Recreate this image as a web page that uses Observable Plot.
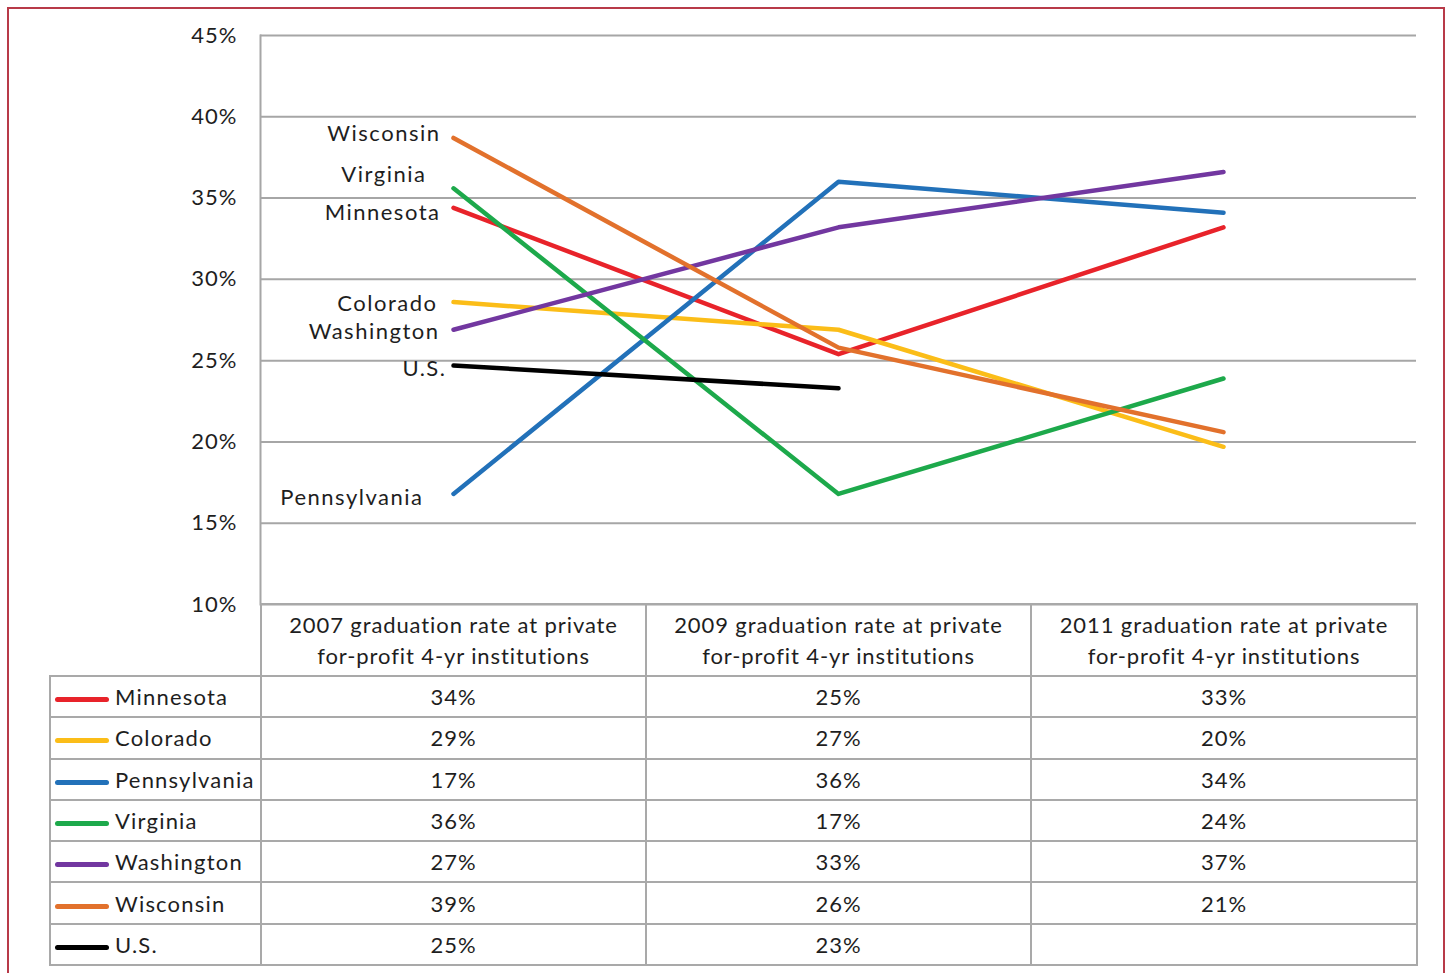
<!DOCTYPE html>
<html><head><meta charset="utf-8">
<script src="https://cdn.jsdelivr.net/npm/d3@7"></script>
<script src="https://cdn.jsdelivr.net/npm/@observablehq/plot@0.6"></script>
<style>
body{margin:0;background:#fff;}
#wrap{position:relative;width:1449px;height:973px;overflow:hidden;font-family:Lato,"Open Sans",sans-serif;color:#1e1e1e;background:#fff;}
#border{position:absolute;left:7px;top:7px;width:1438px;height:1000px;border:2px solid #b83a48;box-sizing:border-box;}
#chart{position:absolute;left:0;top:0;}
#chart svg text{letter-spacing:1px;}
#chart svg g.lbl text{letter-spacing:1.5px;}
#tbl{position:absolute;left:49px;top:603px;border-collapse:collapse;font-size:22px;letter-spacing:1px;table-layout:fixed;width:1369px;}
#tbl td{border:2px solid #a9a9a9;text-align:center;padding:0;line-height:31px;}
#tbl tr.head td{height:70px;letter-spacing:0.9px;}
#tbl tr.row td{height:39.3px;}
#tbl td.blank{border-top:none;border-left:none;}
#tbl td.leg{text-align:left;white-space:nowrap;letter-spacing:1.2px;}
.sw{display:inline-block;width:54px;height:5px;border-radius:3px;vertical-align:middle;margin:0 6px 0 4px;}
</style></head>
<body>
<div id="wrap"><div id="chart"></div><div id="border"></div></div>
<script>
const years = ["2007", "2009", "2011"];
const headerLine1 = ["2007 graduation rate at private", "2009 graduation rate at private", "2011 graduation rate at private"];
const headerLine2 = ["for-profit 4-yr institutions", "for-profit 4-yr institutions", "for-profit 4-yr institutions"];
const states = ["Minnesota", "Colorado", "Pennsylvania", "Virginia", "Washington", "Wisconsin", "U.S."];
const colors = ["#e8232a", "#fbbd18", "#2271b9", "#1da94b", "#7237a0", "#e2712c", "#000000"];
const minnesota = [34.4, 25.4, 33.2];
const colorado = [28.6, 26.9, 19.7];
const pennsylvania = [16.8, 36.0, 34.1];
const virginia = [35.6, 16.8, 23.9];
const washington = [26.9, 33.2, 36.6];
const wisconsin = [38.7, 25.8, 20.6];
const us = [24.7, 23.3, null];
const series = [minnesota, colorado, pennsylvania, virginia, washington, wisconsin, us];
const yTicks = [10, 15, 20, 25, 30, 35, 40, 45];
// annotation nudges: [state, dx, dy]
const labelNudges = [["Wisconsin", -13, -4], ["Virginia", -27, -13], ["Minnesota", -13, 5], ["Colorado", -16, 2], ["Washington", -14, 2], ["U.S.", -7, 3], ["Pennsylvania", -30, 4]];

const rows = [];
states.forEach((s, i) => series[i].forEach((v, j) => { if (v != null) rows.push({state: s, year: years[j], value: v}); }));

const labelMarks = labelNudges.map(([s, dx, dy]) => Plot.text([{state: s, year: years[0], value: series[states.indexOf(s)][0]}], {
  x: "year", y: "value", text: "state", textAnchor: "end", dx, dy, fill: "#1e1e1e", fontSize: 22, className: "lbl"
}));

const plot = Plot.plot({
  width: 1449, height: 606,
  marginLeft: 260, marginRight: 33, marginTop: 35, marginBottom: 2,
  style: {fontFamily: "Lato, 'Open Sans', sans-serif", fontSize: "22px", color: "#1e1e1e", background: "transparent", overflow: "visible"},
  x: {type: "point", domain: years, padding: 0.5, axis: null},
  y: {domain: [10, 45], ticks: yTicks, tickFormat: d => d + "%", tickSize: 0, tickPadding: 23, label: null},
  color: {domain: states, range: colors},
  marks: [
    Plot.ruleY(yTicks, {stroke: "#a6a6a6", strokeWidth: 2}),
    Plot.frame({anchor: "left", stroke: "#a6a6a6", strokeWidth: 2}),
    Plot.line(rows, {x: "year", y: "value", z: "state", stroke: "state", strokeWidth: 4.5, strokeLinecap: "round"}),
    ...labelMarks
  ]
});
document.getElementById("chart").appendChild(plot);

// data table
const tbl = document.createElement("table");
tbl.id = "tbl";
const cg = document.createElement("colgroup");
[211, 385, 385, 386].forEach(w => { const c = document.createElement("col"); c.style.width = w + "px"; cg.appendChild(c); });
tbl.appendChild(cg);
const hr = document.createElement("tr"); hr.className = "head";
const blank = document.createElement("td"); blank.className = "blank"; hr.appendChild(blank);
years.forEach((y, j) => { const td = document.createElement("td"); td.innerHTML = headerLine1[j] + "<br>" + headerLine2[j]; hr.appendChild(td); });
tbl.appendChild(hr);
states.forEach((s, i) => {
  const tr = document.createElement("tr"); tr.className = "row";
  const lg = document.createElement("td"); lg.className = "leg";
  lg.innerHTML = `<span class="sw" style="background:${colors[i]}"></span>${s}`;
  tr.appendChild(lg);
  series[i].forEach(v => { const td = document.createElement("td"); td.textContent = v == null ? "" : Math.round(v) + "%"; tr.appendChild(td); });
  tbl.appendChild(tr);
});
document.getElementById("wrap").appendChild(tbl);
</script>
</body></html>
